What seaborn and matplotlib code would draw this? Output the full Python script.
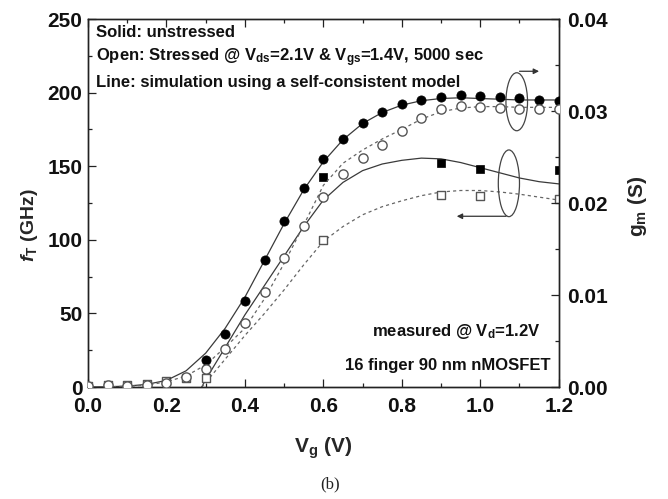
import numpy as np
import pandas as pd
import matplotlib
matplotlib.use("Agg")
import matplotlib.pyplot as plt
from matplotlib.patches import Ellipse
import seaborn as sns

# ---------------- data ----------------
# gm (S), right axis
vg_gm_solid_pts = [0.30, 0.35, 0.40, 0.45, 0.50, 0.55, 0.60, 0.65, 0.70, 0.75, 0.80,
                   0.85, 0.90, 0.95, 1.00, 1.05, 1.10, 1.15, 1.20]
gm_unstressed = [0.00293, 0.00573, 0.00938, 0.01376, 0.01800, 0.02166, 0.02475, 0.02693,
                 0.02869, 0.02992, 0.03072, 0.03120, 0.03155, 0.03174, 0.03163, 0.03155,
                 0.03144, 0.03120, 0.03112]
vg_gm_open_pts = [0.00, 0.05, 0.10, 0.15, 0.20, 0.25, 0.30, 0.35, 0.40, 0.45, 0.50, 0.55,
                  0.60, 0.65, 0.70, 0.75, 0.80, 0.85, 0.90, 0.95, 1.00, 1.05, 1.10, 1.15, 1.20]
gm_stressed = [0.00008, 0.00024, 0.00016, 0.00024, 0.00048, 0.00109, 0.00200, 0.00410,
               0.00696, 0.01029, 0.01398, 0.01754, 0.02064, 0.02312, 0.02486, 0.02634,
               0.02782, 0.02928, 0.03022, 0.03058, 0.03046, 0.03029, 0.03022, 0.03022, 0.03021]

# fT (GHz), left axis
vg_ft_solid_pts = [0.60, 0.90, 1.00, 1.20]
ft_unstressed = [142.5, 152.0, 148.0, 147.5]
vg_ft_open_pts = [0.00, 0.05, 0.10, 0.15, 0.20, 0.25, 0.30, 0.60, 0.90, 1.00, 1.20]
ft_stressed = [0.5, 1.5, 1.5, 2.0, 4.0, 6.0, 6.3, 100.0, 130.5, 130.0, 127.5]

# simulation lines
vg_sim = [0.00, 0.05, 0.10, 0.15, 0.20, 0.25, 0.30, 0.35, 0.40, 0.45, 0.50, 0.55, 0.60,
          0.65, 0.70, 0.75, 0.80, 0.85, 0.90, 0.95, 1.00, 1.05, 1.10, 1.15, 1.20]
gm_sim_unstressed = [0.0, 0.00003, 0.0001, 0.00029, 0.00072, 0.00176, 0.00368, 0.0064,
                     0.00976, 0.01376, 0.01776, 0.02144, 0.02448, 0.02688, 0.02864, 0.02984,
                     0.03064, 0.03112, 0.03136, 0.03144, 0.03136, 0.03128, 0.0312, 0.0312, 0.0312]
gm_sim_stressed = [0.0, 0.00003, 0.00008, 0.00021, 0.00056, 0.0012, 0.0024, 0.00432,
                   0.0064, 0.0096, 0.01344, 0.0176, 0.02192, 0.02432, 0.02576, 0.02696,
                   0.028, 0.02912, 0.02992, 0.03032, 0.03048, 0.03048, 0.0304, 0.0304, 0.0304]
vg_sim_ft = [0.29, 0.30, 0.35, 0.40, 0.45, 0.50, 0.55, 0.60, 0.65, 0.70, 0.75, 0.80, 0.85,
             0.90, 0.95, 1.00, 1.05, 1.10, 1.15, 1.20]
ft_sim_unstressed = [0.0, 5.0, 27.0, 49.0, 69.0, 89.0, 109.0, 127.0, 139.0, 147.0, 151.5,
                     154.0, 155.5, 155.0, 152.5, 149.0, 145.5, 142.0, 139.5, 138.0]
ft_sim_stressed = [0.0, 3.0, 19.0, 35.0, 50.0, 66.0, 83.0, 99.0, 109.0, 117.0, 122.5,
                   126.5, 130.0, 132.5, 133.5, 133.5, 132.5, 131.0, 129.0, 127.0]

x_ticks = [0.0, 0.2, 0.4, 0.6, 0.8, 1.0, 1.2]
y_left_ticks = [0, 50, 100, 150, 200, 250]
y_right_ticks = [0.00, 0.01, 0.02, 0.03, 0.04]

# ---------------- style ----------------
sns.set_style("ticks")
plt.rcParams['font.family'] = ['Liberation Sans', 'DejaVu Sans']
plt.rcParams['font.weight'] = 'bold'
plt.rcParams['mathtext.fontset'] = 'custom'
plt.rcParams['mathtext.rm'] = 'Liberation Sans:bold'
plt.rcParams['mathtext.bf'] = 'Liberation Sans:bold'
plt.rcParams['mathtext.it'] = 'Liberation Sans:bold:italic'
plt.rcParams['mathtext.default'] = 'bf'

fig = plt.figure(figsize=(6.68, 4.99), dpi=100)
ax1 = fig.add_axes([0.1317, 0.2244, 0.8364 - 0.1317, 0.9619 - 0.2244])
ax2 = ax1.twinx()

line_col = '#3a3a3a'
dash_col = '#666666'

# simulation lines
df_ft = pd.DataFrame({'Vg': vg_sim_ft, 'u': ft_sim_unstressed, 's': ft_sim_stressed})
df_gm = pd.DataFrame({'Vg': vg_sim, 'u': gm_sim_unstressed, 's': gm_sim_stressed})
sns.lineplot(data=df_ft, x='Vg', y='u', ax=ax1, color=line_col, lw=0.9)
sns.lineplot(data=df_ft, x='Vg', y='s', ax=ax1, color=dash_col, lw=0.9, linestyle=(0, (2.5, 2.5)))
sns.lineplot(data=df_gm, x='Vg', y='u', ax=ax2, color=line_col, lw=0.9)
sns.lineplot(data=df_gm, x='Vg', y='s', ax=ax2, color=dash_col, lw=0.9, linestyle=(0, (2.5, 2.5)))

# measured markers
sns.scatterplot(x=vg_gm_solid_pts, y=gm_unstressed, ax=ax2, marker='o', s=44,
                color='black', edgecolor='black', linewidth=0.5, zorder=5)
sns.scatterplot(x=vg_gm_open_pts, y=gm_stressed, ax=ax2, marker='o', s=44,
                facecolor='white', edgecolor='#555555', linewidth=1.0, zorder=5)
sns.scatterplot(x=vg_ft_solid_pts, y=ft_unstressed, ax=ax1, marker='s', s=26,
                color='black', edgecolor='black', linewidth=0.5, zorder=5)
sns.scatterplot(x=vg_ft_open_pts, y=ft_stressed, ax=ax1, marker='s', s=26,
                facecolor='white', edgecolor='#555555', linewidth=1.0, zorder=5)

# axes
ax1.set_xlim(0, 1.2)
ax1.set_ylim(0, 250)
ax2.set_ylim(0, 0.04)
ax1.set_xticks(x_ticks)
ax1.set_xticklabels([f"{v:.1f}" for v in x_ticks])
ax1.set_yticks(y_left_ticks)
ax1.set_yticklabels([str(v) for v in y_left_ticks])
ax2.set_yticks(y_right_ticks)
ax2.set_yticklabels([f"{v:.2f}" for v in y_right_ticks])
ax1.set_xticks(np.arange(0.1, 1.2, 0.2), minor=True)
ax1.set_yticks(np.arange(25, 250, 50), minor=True)
ax2.set_yticks(np.arange(0.005, 0.04, 0.01), minor=True)

for a in (ax1, ax2):
    for s in a.spines.values():
        s.set_visible(True)
        s.set_linewidth(1.0)
        s.set_color('#222222')
ax1.tick_params(axis='both', which='both', direction='in', top=True, right=False,
                colors='#222222', width=0.9)
ax1.tick_params(axis='both', which='major', length=6, labelsize=15)
ax1.tick_params(axis='x', which='major', pad=7)
ax1.tick_params(axis='y', which='major', pad=4)
ax1.tick_params(axis='both', which='minor', length=3)
ax2.tick_params(axis='y', which='both', direction='in', colors='#222222', width=0.9)
ax2.tick_params(axis='y', which='major', length=6, labelsize=15, pad=6)
ax2.tick_params(axis='y', which='minor', length=3)
for lab in ax1.get_xticklabels() + ax1.get_yticklabels() + ax2.get_yticklabels():
    lab.set_fontweight('bold')
    lab.set_color('#111111')

ax1.set_xlabel(r'V$_g$ (V)', fontsize=15, fontweight='bold', labelpad=14)
ax1.set_ylabel(r'$\mathit{f}_T$ (GHz)', fontsize=14, fontweight='bold', labelpad=6)
ax1.yaxis.set_label_coords(-0.102, 0.44)
ax2.set_ylabel(r'g$_m$ (S)', fontsize=15, fontweight='bold', labelpad=14, rotation=90)
ax2.yaxis.set_label_coords(1.142, 0.49)

# annotations
txt_kw = dict(fontsize=12, fontweight='bold', color='#111111', va='center')
ax1.text(0.02, 241, 'Solid: unstressed', ha='left', **txt_kw)
ax1.text(0.02, 223.5, r'Open: Stressed @ V$_{ds}$=2.1V & V$_{gs}$=1.4V, 5000 sec', ha='left', **txt_kw)
ax1.text(0.02, 207, 'Line: simulation using a self-consistent model', ha='left', **txt_kw)
ax1.text(1.154, 37.6, r'measured @ V$_d$=1.2V', ha='right', **txt_kw)
ax1.text(1.179, 14.9, '16 finger 90 nm nMOSFET', ha='right', **txt_kw)

ax1.add_patch(Ellipse((1.093, 193.8), 0.055, 39.4, fill=False, edgecolor='#444444', lw=0.9, zorder=6))
ax1.add_patch(Ellipse((1.073, 138.4), 0.054, 45.3, fill=False, edgecolor='#444444', lw=0.9, zorder=6))
ax1.annotate('', xy=(1.157, 214.5), xytext=(1.093, 214.5),
             arrowprops=dict(arrowstyle='-|>', color='#333333', lw=0.9, mutation_scale=8))
ax1.annotate('', xy=(0.933, 116.0), xytext=(1.073, 116.0),
             arrowprops=dict(arrowstyle='-|>', color='#333333', lw=0.9, mutation_scale=8))

fig.text(0.494, 0.03, '(b)', family=['Liberation Serif', 'DejaVu Serif'], fontweight='normal',
         fontsize=12, ha='center', va='center', color='#222222')

fig.savefig('out.png', dpi=100)
